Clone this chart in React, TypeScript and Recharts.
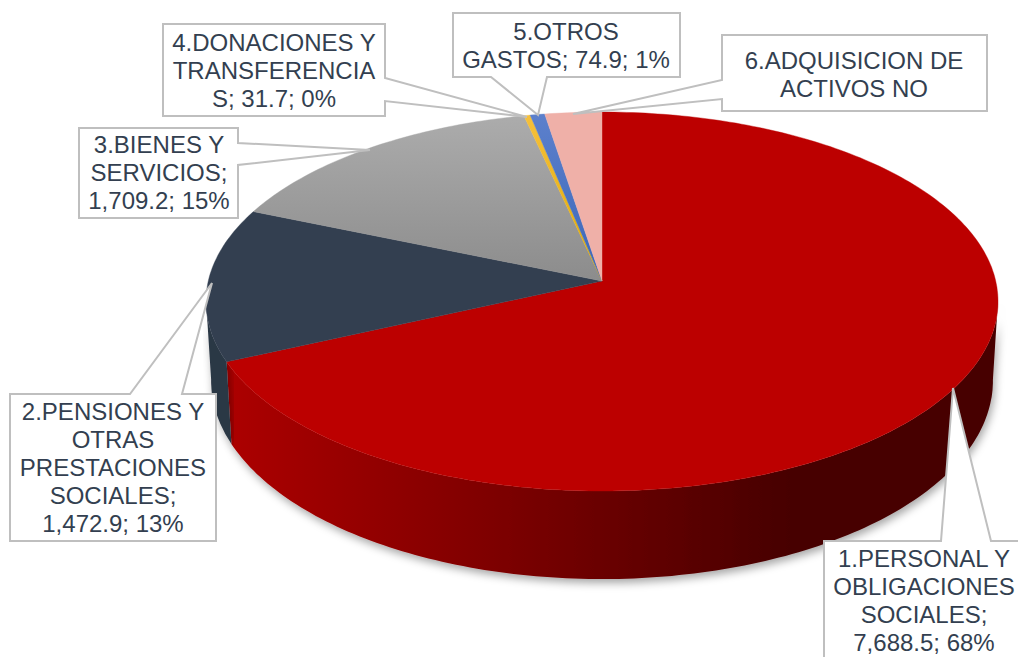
import React from "react";
import {Cell, Pie, PieChart} from "recharts";

const categories = [
    "1.PERSONAL Y OBLIGACIONES SOCIALES",
    "2.PENSIONES Y OTRAS PRESTACIONES SOCIALES",
    "3.BIENES Y SERVICIOS",
    "4.DONACIONES Y TRANSFERENCIAS",
    "5.OTROS GASTOS",
    "6.ADQUISICION DE ACTIVOS NO",
];
const values = [7688.5, 1472.9, 1709.2, 31.7, 74.9, 290];
const labelTexts = [
    ["1.PERSONAL Y", "OBLIGACIONES", "SOCIALES;", "7,688.5; 68%"],
    ["2.PENSIONES Y", "OTRAS", "PRESTACIONES", "SOCIALES;", "1,472.9; 13%"],
    ["3.BIENES Y", "SERVICIOS;", "1,709.2; 15%"],
    ["4.DONACIONES Y", "TRANSFERENCIA", "S; 31.7; 0%"],
    ["5.OTROS", "GASTOS; 74.9; 1%"],
    ["6.ADQUISICION DE", "ACTIVOS NO"],
];
const faceFills = ["#BC0000", "#333F50", "url(#greyFace)", "url(#yellowFace)", "url(#blueFace)", "#EFB0A8"];
const wallFills = ["url(#redWall)", "#2C3745", "#7F7F7F", "#BF9000", "#2F5597", "#C98A82"];

// callout outlines, drawn by hand like the data labels in the original
const callouts = [
    {outline: "824,541 941,541 953,388 991,541 1030,541 1030,670 824,670", cx: 924, y: 567},
    {outline: "10,394 130,394 212,283 182,394 216,394 216,541 10,541", cx: 113, y: 420},
    {outline: "79,128 238,128 238,143 370,150 238,165 238,218 79,218", cx: 159, y: 153},
    {outline: "163,24 385,24 385,78 527,117 385,101 385,116 163,116", cx: 274, y: 51},
    {outline: "453,13 680,13 680,77 547,77 538,115 491,77 453,77", cx: 566, y: 40},
    {outline: "722,35 987,35 987,111 722,111 722,99 573,114 722,80", cx: 854, y: 69},
];

const chartData = categories.map((name, i) => ({name, value: values[i]}));

// perspective of the disc
const CX = 602;
const CY = 281;
const A = 393.7;
const B = 187.3;
const K = 0.1082;
const DEPTH = 78.5;
const RIM = 0.987;

const topPoint = (deg: number) => {
    const u = Math.cos((deg * Math.PI) / 180);
    const v = -Math.sin((deg * Math.PI) / 180);
    const w = 1 - K * v;
    return {x: CX + (A * u) / w, y: CY + (B * v) / w, v, w};
};

const arcAngles = (start: number, end: number) => {
    const n = Math.max(2, Math.ceil(Math.abs(end - start)));
    const out: number[] = [];
    for (let i = 0; i <= n; i++) out.push(start + ((end - start) * i) / n);
    return out;
};

const FaceShape = (props: any) => {
    const pts = arcAngles(props.startAngle, props.endAngle).map(topPoint);
    const d = `M${CX},${CY} ` + pts.map(p => `L${p.x.toFixed(1)},${p.y.toFixed(1)}`).join(" ") + " Z";
    return <path d={d} fill={props.fill} stroke={props.fill} strokeWidth={0.4}/>;
};

const WallShape = (props: any) => {
    // only the part of the rim below the widest point of the disc faces the viewer
    const pts = arcAngles(props.startAngle, props.endAngle).map(topPoint).filter(p => p.v > K - 0.02);
    if (pts.length < 2) return <g/>;
    const top = pts.map(p => `${p.x.toFixed(1)},${p.y.toFixed(1)}`);
    const bottom = pts.map(p => `${(CX + (p.x - CX) * RIM).toFixed(1)},${(p.y + DEPTH / p.w).toFixed(1)}`).reverse();
    return <polygon points={[...top, ...bottom].join(" ")} fill={props.fill} filter="url(#wallShadow)"/>;
};

const renderCallout = (props: any) => {
    const box = callouts[props.index];
    return (
        <g key={props.index}>
            <polygon points={box.outline} fill="#FFFFFF" stroke="#BFBFBF" strokeWidth={2}/>
            {labelTexts[props.index].map((line, i) => (
                <text key={line} x={box.cx} y={box.y + i * 28} textAnchor="middle"
                      fontFamily="Liberation Sans" fontSize={24} fill="#333F50">{line}</text>
            ))}
        </g>
    );
};

const App = () => (
    <div style={{position: "absolute", left: 0, top: 0, width: 1018, height: 657, overflow: "hidden"}}>
        <PieChart width={1018} height={657} margin={{top: 0, right: 0, bottom: 0, left: 0}}>
            <defs>
                <linearGradient id="redWall" gradientUnits="userSpaceOnUse" x1="228" y1="0" x2="790" y2="0">
                    <stop offset="0" stopColor="#AC0000"/>
                    <stop offset="0.45" stopColor="#800000"/>
                    <stop offset="1" stopColor="#470000"/>
                </linearGradient>
                <linearGradient id="greyFace" gradientUnits="userSpaceOnUse" x1="0" y1="115" x2="0" y2="281">
                    <stop offset="0" stopColor="#ACACAC"/>
                    <stop offset="1" stopColor="#8C8C8C"/>
                </linearGradient>
                <linearGradient id="yellowFace" gradientUnits="userSpaceOnUse" x1="0" y1="115" x2="0" y2="281">
                    <stop offset="0" stopColor="#F6C03C"/>
                    <stop offset="1" stopColor="#E0AA00"/>
                </linearGradient>
                <linearGradient id="blueFace" gradientUnits="userSpaceOnUse" x1="0" y1="115" x2="0" y2="281">
                    <stop offset="0" stopColor="#5C80CC"/>
                    <stop offset="1" stopColor="#3A66B8"/>
                </linearGradient>
                <filter id="wallShadow" x="-10%" y="-10%" width="120%" height="130%">
                    <feDropShadow dx={2} dy={4} stdDeviation={4} floodColor="#000000" floodOpacity={0.35}/>
                </filter>
            </defs>
            <Pie data={chartData} dataKey="value" nameKey="name" cx={CX} cy={CY} outerRadius={200}
                 startAngle={90} endAngle={-270} stroke="none" shape={WallShape} isAnimationActive={false}>
                {chartData.map((d, i) => <Cell key={d.name} fill={wallFills[i]}/>)}
            </Pie>
            <Pie data={chartData} dataKey="value" nameKey="name" cx={CX} cy={CY} outerRadius={200}
                 startAngle={90} endAngle={-270} stroke="none" shape={FaceShape}
                 label={renderCallout} labelLine={false} isAnimationActive={false}>
                {chartData.map((d, i) => <Cell key={d.name} fill={faceFills[i]}/>)}
            </Pie>
        </PieChart>
    </div>
);

export default App;
